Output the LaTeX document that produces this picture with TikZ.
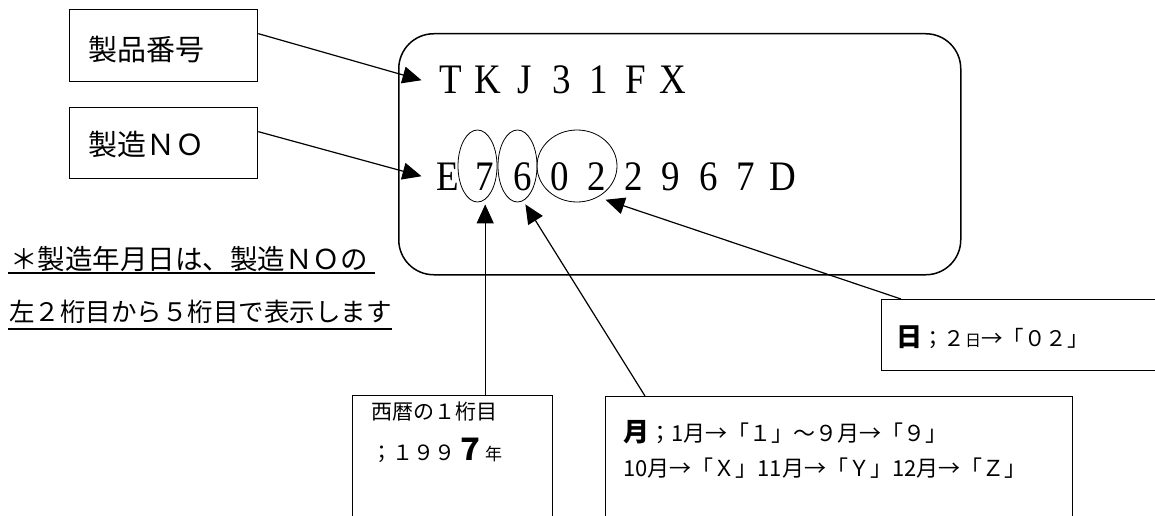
\documentclass[tikz,border=0pt]{standalone}
\usepackage{fontspec}
\newfontfamily\cjk{Noto Sans CJK JP}
\newfontfamily\codefont[FakeStretch=0.88]{Liberation Serif}
\usepackage{tikz}
\usetikzlibrary{shapes.geometric, arrows.meta, positioning, calc}
\tikzset{
    labelbox/.style={
        rectangle, draw=black, line width=1.3pt, inner sep=0pt
    },
    boxtext/.style={
        anchor=west, inner sep=0pt, font=\cjk\fontsize{29}{29}\selectfont
    },
    smalltext/.style={
        anchor=west, inner sep=0pt, font=\cjk\fontsize{21}{21}\selectfont
    },
    notetext/.style={
        anchor=west, inner sep=0pt, font=\cjk\fontsize{27.5}{27.5}\selectfont
    },
    codechar/.style={
        anchor=base, inner sep=0pt, font=\codefont\fontsize{42}{42}\selectfont
    },
    digitring/.style={
        ellipse, draw=black, line width=0.8pt, inner sep=0pt, minimum height=72pt
    },
    pointer/.style={draw=black, line width=1.2pt, -{Triangle[length=19pt, width=17pt]}},
    underline/.style={draw=black, line width=1.3pt}
}

\begin{document}
\begin{tikzpicture}[x=1pt, y=-1pt]
    \useasboundingbox (0,0) rectangle (1155,516);

    % Label boxes on the left
    \node[labelbox, anchor=north west, minimum width=188pt, minimum height=72pt] (prodbox) at (69,9) {};
    \node[boxtext] (prodtxt) at (88,50) {製品番号};
    \node[labelbox, anchor=north west, minimum width=188pt, minimum height=71pt] (nobox) at (69,107) {};
    \node[boxtext] (notxt) at (88,145) {製造ＮＯ};

    % Name plate
    \node[draw=black, line width=1.5pt, rounded corners=35pt, anchor=north west,
          minimum width=562pt, minimum height=241pt] (plate) at (398,33) {};

    % Product code
    \foreach \c [count=\i] in {T,K,J,3,1,F,X} {
        \node[codechar] (t\i) at ({451+37*(\i-1)},94) {\c};
    }

    % Serial number
    \foreach \c [count=\i] in {E,7,6,0,2,2,9,6,7,D} {
        \node[codechar] (n\i) at ({448+37.2*(\i-1)},190) {\c};
    }

    % Rings round the date digits
    \node[digitring, minimum width=39pt] (e7) at (477.5,166) {};
    \node[digitring, minimum width=39pt] (e6) at (517.5,166) {};
    \node[digitring, minimum width=80pt] (e02) at (577,166) {};

    % Note
    \node[notetext] (note1) at (10,259) {＊製造年月日は、製造ＮＯの};
    \draw[underline] (8,273) -- (375,273);
    \node[notetext, font=\cjk\fontsize{25.5}{25.5}\selectfont] (note2) at (9,312) {左２桁目から５桁目で表示します};
    \draw[underline] (8,329) -- (392,329);

    % Explanation boxes
    \node[labelbox, anchor=north west, minimum width=290pt, minimum height=71pt] (daybox) at (881,299) {};
    \node[smalltext, font=\cjk\fontsize{21.5}{21.5}\selectfont] (daytxt) at (896,337) {{\bfseries\fontsize{26}{26}\selectfont 日}；２{\fontsize{16}{16}\selectfont 日}→「０２」};

    \node[labelbox, anchor=north west, minimum width=200pt, minimum height=145pt] (yearbox) at (352,395) {};
    \node[smalltext] (yeartxt1) at (371,412) {西暦の１桁目};
    \node[smalltext] (yeartxt2) at (371,450) {；１９９{\bfseries\fontsize{30}{30}\selectfont ７}{\fontsize{17}{17}\selectfont 年}};

    \node[labelbox, anchor=north west, minimum width=467pt, minimum height=145pt] (monthbox) at (605,396) {};
    \node[smalltext, font=\cjk\fontsize{22}{22}\selectfont] (monthtxt1) at (623,432) {{\bfseries\fontsize{26}{26}\selectfont 月}；1月→「１」～９月→「９」};
    \node[smalltext, font=\cjk\fontsize{22}{22}\selectfont] (monthtxt2) at (623,468) {10月→「Ｘ」11月→「Ｙ」12月→「Ｚ」};

    % Pointers
    \draw[pointer] ([yshift=12pt]prodbox.east) -- ([xshift=-18pt]t1.west);
    \draw[pointer] ([yshift=11.5pt]nobox.east) -- ([xshift=-15pt]n1.west);
    \draw[pointer] (n2 |- yearbox.north) -- ([yshift=-2pt]n2 |- e7.south);
    \draw[pointer] ([xshift=40pt]monthbox.north west) -- ([xshift=3pt, yshift=-2pt]n3 |- e6.south);
    \draw[pointer] ([xshift=20pt]daybox.north west) -- ([yshift=-8pt]e02.south east);
\end{tikzpicture}
\end{document}
